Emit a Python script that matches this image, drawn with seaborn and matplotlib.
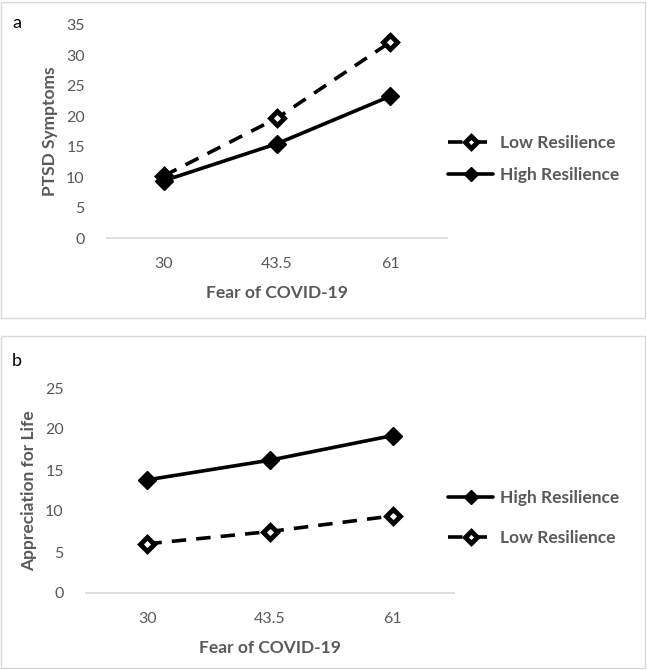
import matplotlib
matplotlib.use('Agg')
import matplotlib.pyplot as plt
import seaborn as sns
import pandas as pd
from matplotlib.patches import Rectangle

# data
fear_levels = ['30', '43.5', '61']
ptsd_low = [10.2, 19.7, 32.2]
ptsd_high = [9.4, 15.5, 23.3]
life_high = [13.8, 16.2, 19.2]
life_low = [6.0, 7.5, 9.4]

GRAY = '#595959'
sns.set_theme(style='white')
plt.rcParams['font.family'] = ['Lato', 'DejaVu Sans']

fig = plt.figure(figsize=(6.47, 6.70), dpi=100)

# panel frames
fig.add_artist(Rectangle((1/647, 352/670), 644/647, 316/670, transform=fig.transFigure,
                         fill=False, edgecolor='#d9d9d9', lw=1))
fig.add_artist(Rectangle((1/647, 2/670), 644/647, 332/670, transform=fig.transFigure,
                         fill=False, edgecolor='#d9d9d9', lw=1))


def draw(ax, series, ylabel, ymax, order):
    handles = {}
    for name, vals in series.items():
        df = pd.DataFrame({'fear': fear_levels, 'val': vals})
        low = name.startswith('Low')
        sns.lineplot(data=df, x='fear', y='val', ax=ax, sort=False, color='black',
                     lw=2.6, marker='D', markersize=7.5 if low else 9,
                     markerfacecolor='white' if low else 'black',
                     markeredgecolor='black', markeredgewidth=3.5 if low else 1,
                     linestyle=(0, (4, 2.8)) if low else '-')
        handles[name] = ax.lines[-1]
    ax.set_xlim(-0.5, 2.5)
    ax.set_ylim(0, ymax)
    ax.set_yticks(range(0, ymax + 1, 5))
    for s in ['top', 'right', 'left']:
        ax.spines[s].set_visible(False)
    ax.spines['bottom'].set_color('#d9d9d9')
    ax.spines['bottom'].set_linewidth(1.2)
    ax.tick_params(axis='both', length=0, labelsize=11.5, labelcolor=GRAY, pad=14)
    ax.tick_params(axis='y', pad=16)
    ax.set_xlabel('Fear of COVID-19', fontsize=12.5, fontweight='bold', color=GRAY, labelpad=10)
    ax.set_ylabel(ylabel, fontsize=12.5, fontweight='bold', color=GRAY, labelpad=6)
    ax.set_facecolor('none')
    return [handles[n] for n in order]


ax1 = fig.add_axes([107/647, 432/670, 340/647, 213/670])
h1 = draw(ax1, {'Low Resilience': ptsd_low, 'High Resilience': ptsd_high},
          'PTSD Symptoms', 35, ['Low Resilience', 'High Resilience'])
leg1 = ax1.legend(h1, ['Low Resilience', 'High Resilience'], loc='center left',
                  bbox_to_anchor=(448/647, 511/670), bbox_transform=fig.transFigure,
                  frameon=False, handlelength=2.6, handletextpad=0.4, labelspacing=0.9,
                  borderaxespad=0, borderpad=0, markerscale=0.8,
                  prop={'size': 12.5, 'weight': 'bold'})
for t in leg1.get_texts():
    t.set_color(GRAY)

ax2 = fig.add_axes([86/647, 77/670, 368/647, 205/670])
h2 = draw(ax2, {'High Resilience': life_high, 'Low Resilience': life_low},
          'Appreciation for Life', 25, ['High Resilience', 'Low Resilience'])
leg2 = ax2.legend(h2, ['High Resilience', 'Low Resilience'], loc='center left',
                  bbox_to_anchor=(448/647, 152/670), bbox_transform=fig.transFigure,
                  frameon=False, handlelength=2.6, handletextpad=0.4, labelspacing=1.4,
                  borderaxespad=0, borderpad=0, markerscale=0.8,
                  prop={'size': 12.5, 'weight': 'bold'})
for t in leg2.get_texts():
    t.set_color(GRAY)

fig.text(12/647, 1 - 28/670, 'a', fontsize=13, color='black', va='baseline')
fig.text(12/647, 1 - 366/670, 'b', fontsize=13, color='black', va='baseline')

fig.savefig('out.png', dpi=100)
